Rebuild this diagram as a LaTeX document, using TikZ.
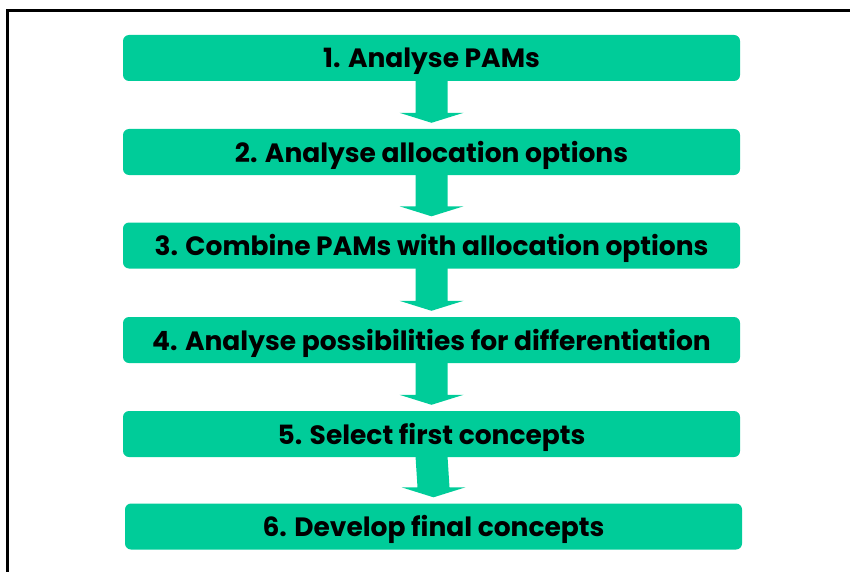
\documentclass[tikz,border=0pt]{standalone}
\usepackage{fontspec}
\setmainfont{Poppins}[BoldFont={* Bold}]
\usetikzlibrary{calc}
\definecolor{stepgreen}{RGB}{0,204,153}
\begin{document}
\begin{tikzpicture}[x=1pt,y=-1pt,
  stepbox/.style={fill=stepgreen, rounded corners=6pt, minimum width=617pt, minimum height=46pt, inner sep=0pt, font=\fontsize{26.5}{30}\selectfont\bfseries, text=black, text height=20pt, text depth=0pt},
  downarrow/.style={fill=stepgreen, draw=none}]
\useasboundingbox (0,0) rectangle (850,572);
\draw[line width=3pt] (7,572) -- (7,11) -- (850,11);
\node[stepbox] (s1) at (431.5,58) {1. Analyse PAMs};
\node[stepbox] (s2) at (431.5,152) {2. Analyse allocation options};
\node[stepbox] (s3) at (431.5,245.5) {3. Combine PAMs with allocation options};
\node[stepbox] (s4) at (431.5,340) {4. Analyse possibilities for differentiation};
\node[stepbox] (s5) at (431.5,434) {5. Select first concepts};
\node[stepbox] (s6) at (433.5,526.5) {6. Develop final concepts};
\foreach \a/\b in {s1/s2,s2/s3,s3/s4,s4/s5,s5/s6}{
  \path (420,0) |- (\a.south) coordinate (\a top);
  \path (420,0) |- (\b.north) coordinate (\a nb);
  \path ($(\a nb)+(0,-6)$) coordinate (\a tip);
  \fill[downarrow] ($(\a top)+(-16,-1)$) -- ($(\a top)+(16,-1)$) -- ($(\a tip)+(16,-10)$) -- ($(\a tip)+(32,-10)$) -- (\a tip) -- ($(\a tip)+(-32,-10)$) -- ($(\a tip)+(-16,-10)$) -- cycle;
}
\end{tikzpicture}
\end{document}
